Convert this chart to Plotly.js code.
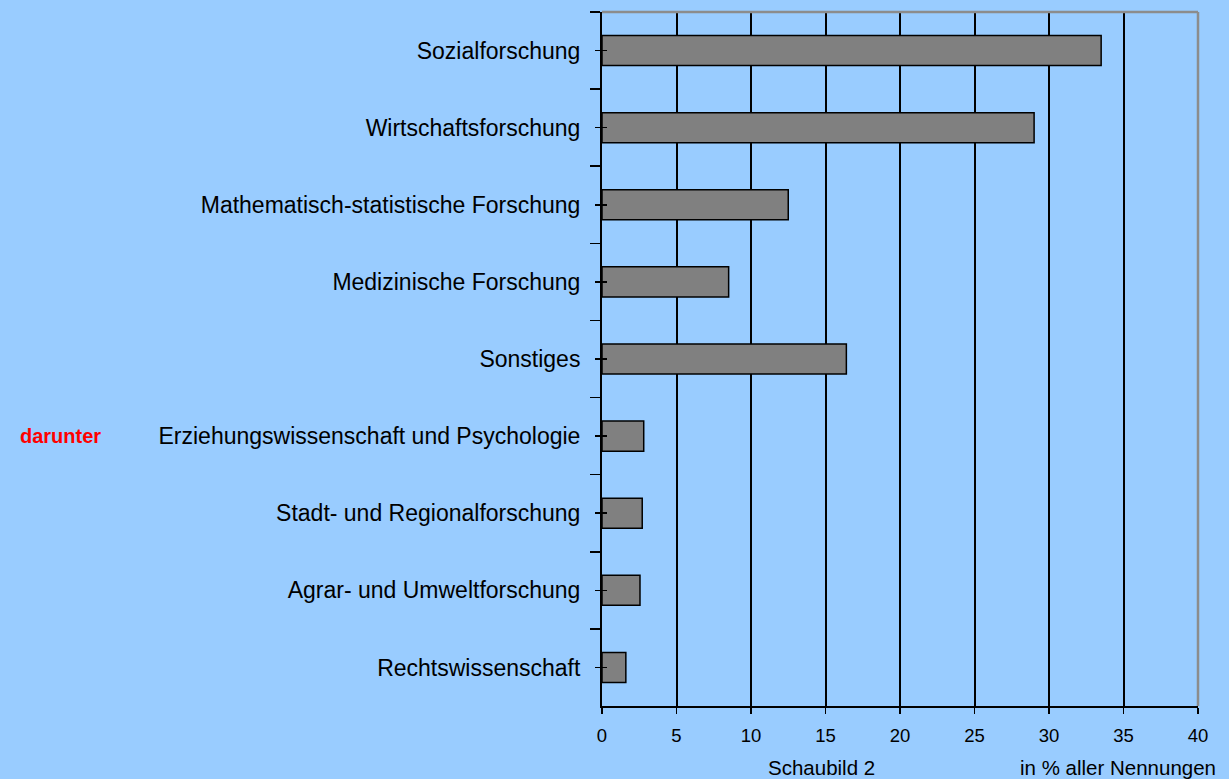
<!DOCTYPE html>
<html>
<head>
<meta charset="utf-8">
<script src="https://cdn.plot.ly/plotly-3.0.1.min.js"></script>
<style>html,body{margin:0;padding:0;background:#99CCFF;}</style>
</head>
<body>
<div id="chart" style="width:1229px;height:779px;"></div>
<script>
const categories = [
  "Sozialforschung",
  "Wirtschaftsforschung",
  "Mathematisch-statistische Forschung",
  "Medizinische Forschung",
  "Sonstiges",
  "Erziehungswissenschaft und Psychologie",
  "Stadt- und Regionalforschung",
  "Agrar- und Umweltforschung",
  "Rechtswissenschaft"
];
const values = [33.5, 29.0, 12.5, 8.5, 16.4, 2.8, 2.7, 2.55, 1.6];
const xTicks = [0, 5, 10, 15, 20, 25, 30, 35, 40];
const gridTicks = [5, 10, 15, 20, 25, 30, 35];
const xTitle = "in % aller Nennungen";
const caption = "Schaubild 2";
const subNote = "darunter";

const font = "Liberation Sans, Arial, sans-serif";
const catRange = [categories.length - 0.5, -0.5];

const data = [
  {
    type: "bar",
    orientation: "h",
    x: values,
    y: categories,
    width: 0.39,
    marker: {color: "#808080", line: {color: "#000000", width: 1.5}},
    hoverinfo: "x+y",
    showlegend: false
  },
  {
    type: "scatter", mode: "markers",
    x: categories.map(() => null), y: categories,
    yaxis: "y2", xaxis: "x", showlegend: false, hoverinfo: "skip"
  },
  {
    type: "scatter", mode: "markers",
    x: categories.map(() => null), y: categories,
    yaxis: "y3", xaxis: "x2", showlegend: false, hoverinfo: "skip"
  }
];

const layout = {
  width: 1229, height: 779,
  paper_bgcolor: "#99CCFF",
  plot_bgcolor: "#99CCFF",
  margin: {l: 602, r: 31, t: 12, b: 73},
  font: {family: font, color: "#000000"},
  xaxis: {
    range: [0, 40],
    tickvals: xTicks,
    ticks: "outside", ticklen: 6, tickwidth: 1.5, tickcolor: "#000",
    showline: true, linecolor: "#000", linewidth: 2,
    showgrid: false, zeroline: false,
    tickfont: {size: 18.5, family: font, color: "#000"},
    ticklabelstandoff: 6,
    fixedrange: true
  },
  xaxis2: {
    overlaying: "x", range: [0, 40],
    tickvals: gridTicks, showticklabels: false, ticks: "",
    showgrid: true, gridcolor: "#000", gridwidth: 2,
    showline: false, zeroline: false
  },
  yaxis: {
    type: "category",
    categoryorder: "array", categoryarray: categories,
    range: catRange,
    tickson: "boundaries",
    ticks: "outside", ticklen: 10, tickwidth: 1.5, tickcolor: "#000",
    showline: true, linecolor: "#000", linewidth: 2,
    showgrid: false, zeroline: false,
    tickfont: {size: 23, family: font, color: "#000"},
    ticklabelstandoff: 15,
    fixedrange: true
  },
  yaxis2: {
    type: "category", overlaying: "y",
    categoryorder: "array", categoryarray: categories,
    range: catRange,
    ticks: "outside", ticklen: 6, tickwidth: 1.5, tickcolor: "#000",
    showticklabels: false, showline: false, showgrid: false, zeroline: false
  },
  yaxis3: {
    type: "category", overlaying: "y",
    categoryorder: "array", categoryarray: categories,
    range: catRange,
    ticks: "inside", ticklen: 5, tickwidth: 1.5, tickcolor: "#000",
    showticklabels: false, showline: false, showgrid: false, zeroline: false
  },
  shapes: [
    {type: "line", xref: "paper", yref: "paper", x0: 0, x1: 1, y0: 1, y1: 1,
     line: {color: "#8C8C8C", width: 2.5}, layer: "above"},
    {type: "line", xref: "paper", yref: "paper", x0: 1, x1: 1, y0: 0, y1: 1,
     line: {color: "#8C8C8C", width: 2.5}, layer: "above"}
  ],
  annotations: [
    {text: caption, xref: "paper", yref: "paper", x: 0.369, y: -0.089,
     xanchor: "center", yanchor: "middle", showarrow: false,
     font: {size: 20.5, family: font, color: "#000"}},
    {text: xTitle, xref: "paper", yref: "paper", x: 0.866, y: -0.089,
     xanchor: "center", yanchor: "middle", showarrow: false,
     font: {size: 20.5, family: font, color: "#000"}},
    {text: "<b>" + subNote + "</b>", xref: "paper", yref: "y", x: -0.909, y: categories[5],
     xanchor: "center", yanchor: "middle", showarrow: false,
     font: {size: 20, family: font, color: "#FF0000"}}
  ]
};

Plotly.newPlot("chart", data, layout, {displayModeBar: false, staticPlot: true});
</script>
</body>
</html>
